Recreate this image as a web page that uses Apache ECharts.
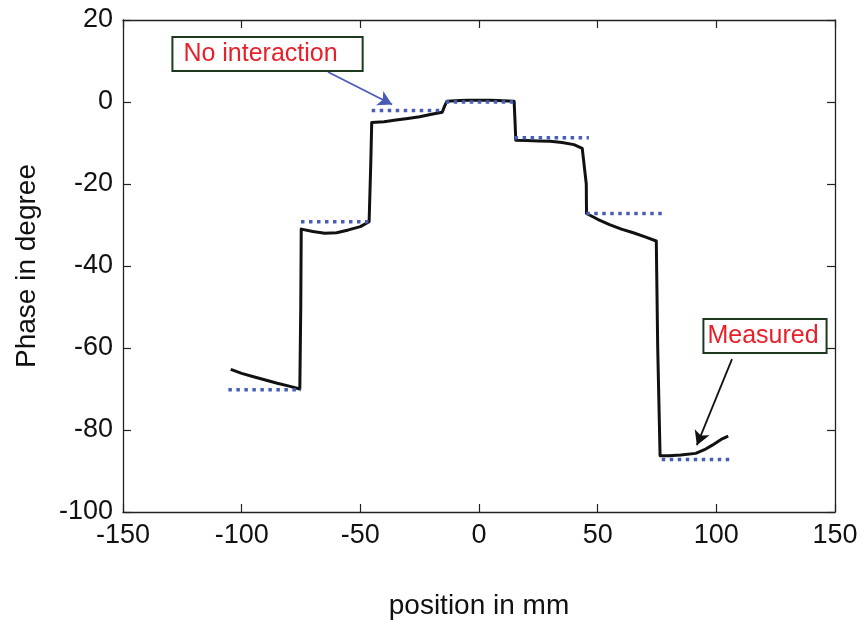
<!DOCTYPE html>
<html>
<head>
<meta charset="utf-8">
<script src="https://cdn.jsdelivr.net/npm/echarts@6/dist/echarts.min.js"></script>
<style>
  html, body { margin: 0; padding: 0; background: #ffffff; }
  #chart { width: 868px; height: 625px; }
</style>
</head>
<body>
<div id="chart"></div>
<script>
// Measured phase profile: [position in mm, phase in degree]
const measuredX = [-104.6, -100, -95, -90, -85, -80, -75.5, -75.1, -74.9, -70, -65, -60, -55, -50, -46.3,
  -45.6, -45.2, -40, -35, -30, -25, -20, -15.5, -14.5, -13.5, -10, -5, 0, 5, 10, 14.8,
  15.2, 15.5, 20, 25, 30, 35, 40, 43.5, 45.2, 45.3, 50, 55, 60, 65, 70, 74.7,
  75.3, 76.3, 80, 85, 91.3, 95, 98.3, 102, 105];
const measuredY = [-65.2, -66.2, -67.0, -67.8, -68.6, -69.3, -70.0, -50, -31.0, -31.6, -32.0, -31.9, -31.2, -30.4, -29.2,
  -15, -5.0, -4.8, -4.4, -4.0, -3.6, -3.0, -2.5, -1.0, 0.2, 0.3, 0.4, 0.4, 0.4, 0.3, 0.2,
  -5, -9.3, -9.4, -9.5, -9.6, -9.9, -10.4, -11.3, -20, -27.2, -28.6, -29.9, -31.0, -31.9, -32.9, -33.9,
  -60, -86.3, -86.3, -86.1, -85.7, -84.8, -83.7, -82.3, -81.5];

// "No interaction" reference levels: segment start, end and phase
const refStart = [-105.6, -75, -45.2, -14, 15, 45.2, 77];
const refEnd   = [-75, -46.3, -15.6, 15.5, 46.3, 77.2, 106.4];
const refPhase = [-70.2, -29.2, -2.1, 0, -8.7, -27.2, -87.2];

// Axis ticks
const xTicks = [-150, -100, -50, 0, 50, 100, 150];
const yTicks = [-100, -80, -60, -40, -20, 0, 20];

// Annotation texts with their anchor points (box centre and arrow ends)
const noteTexts = ['No interaction', 'Measured'];
const noteCenters = [[-89.1, 11.7], [120.5, -57.1]];
const arrowFrom = [[-63.6, 7.3], [106.6, -62.7]];
const arrowTo = [[-36.6, -0.6], [91.8, -83.7]];

const FONT = '"Liberation Sans", Arial, Helvetica, sans-serif';
const chart = echarts.init(document.getElementById('chart'), null, { renderer: 'canvas' });

const measuredData = measuredX.map((x, i) => [x, measuredY[i]]);

const refSeries = refStart.map((x0, i) => ({
  type: 'line',
  data: [[x0, refPhase[i]], [refEnd[i], refPhase[i]]],
  symbol: 'none',
  z: 4,
  lineStyle: { color: '#4a5db5', width: 3.5, type: [3.5, 4.5], cap: 'butt' },
  animation: false,
  silent: true
}));

const arrowColors = ['#4a5db5', '#111111'];
// padding of each text box: [top, right, bottom, left]
const boxPadding = [[3, 24, 2, 10], [3, 7, 2, 3]];

const axisCommon = {
  axisLine: { show: true, onZero: false, lineStyle: { color: '#222', width: 1.3 } },
  axisTick: { show: true, inside: true, length: 8, lineStyle: { color: '#222', width: 1.2 } },
  splitLine: { show: false }
};

chart.setOption({
  backgroundColor: '#ffffff',
  animation: false,
  grid: { left: 123, right: 33, top: 20, bottom: 113, containLabel: false },
  xAxis: [
    Object.assign({
      type: 'value', min: xTicks[0], max: xTicks[xTicks.length - 1], interval: 50,
      position: 'bottom',
      name: 'position in mm', nameLocation: 'middle', nameGap: 80,
      nameTextStyle: { fontFamily: FONT, fontSize: 28, color: '#111' },
      axisLabel: { fontFamily: FONT, fontSize: 27, color: '#111', margin: 10 }
    }, axisCommon),
    Object.assign({
      type: 'value', min: xTicks[0], max: xTicks[xTicks.length - 1], interval: 50,
      position: 'top', axisLabel: { show: false }
    }, axisCommon)
  ],
  yAxis: [
    Object.assign({
      type: 'value', min: yTicks[0], max: yTicks[yTicks.length - 1], interval: 20,
      position: 'left',
      name: 'Phase in degree', nameLocation: 'middle', nameGap: 82,
      nameTextStyle: { fontFamily: FONT, fontSize: 28, color: '#111' },
      axisLabel: { fontFamily: FONT, fontSize: 27, color: '#111', margin: 10 }
    }, axisCommon),
    Object.assign({
      type: 'value', min: yTicks[0], max: yTicks[yTicks.length - 1], interval: 20,
      position: 'right', axisLabel: { show: false }
    }, axisCommon)
  ],
  series: [
    {
      type: 'line',
      data: measuredData,
      symbol: 'none',
      z: 3,
      lineStyle: { color: '#111111', width: 3, join: 'round' },
      silent: true
    }
  ].concat(refSeries).concat(noteTexts.map((t, i) => ({
    type: 'line',
    data: [],
    z: 6,
    silent: true,
    markPoint: {
      symbol: 'circle',
      symbolSize: 0,
      silent: true,
      label: {
        show: true, position: 'inside', formatter: t,
        fontFamily: FONT, fontSize: 25, color: '#e8202a', lineHeight: 27,
        backgroundColor: '#ffffff', borderColor: '#1d3a1f', borderWidth: 2,
        padding: boxPadding[i]
      },
      data: [{ coord: noteCenters[i] }]
    },
    markLine: {
      silent: true,
      symbol: ['none', 'arrow'],
      symbolSize: [12, 14],
      label: { show: false },
      lineStyle: { color: arrowColors[i], width: 1.8, type: 'solid' },
      data: [[{ coord: arrowFrom[i] }, { coord: arrowTo[i] }]]
    }
  })))
});
</script>
</body>
</html>
